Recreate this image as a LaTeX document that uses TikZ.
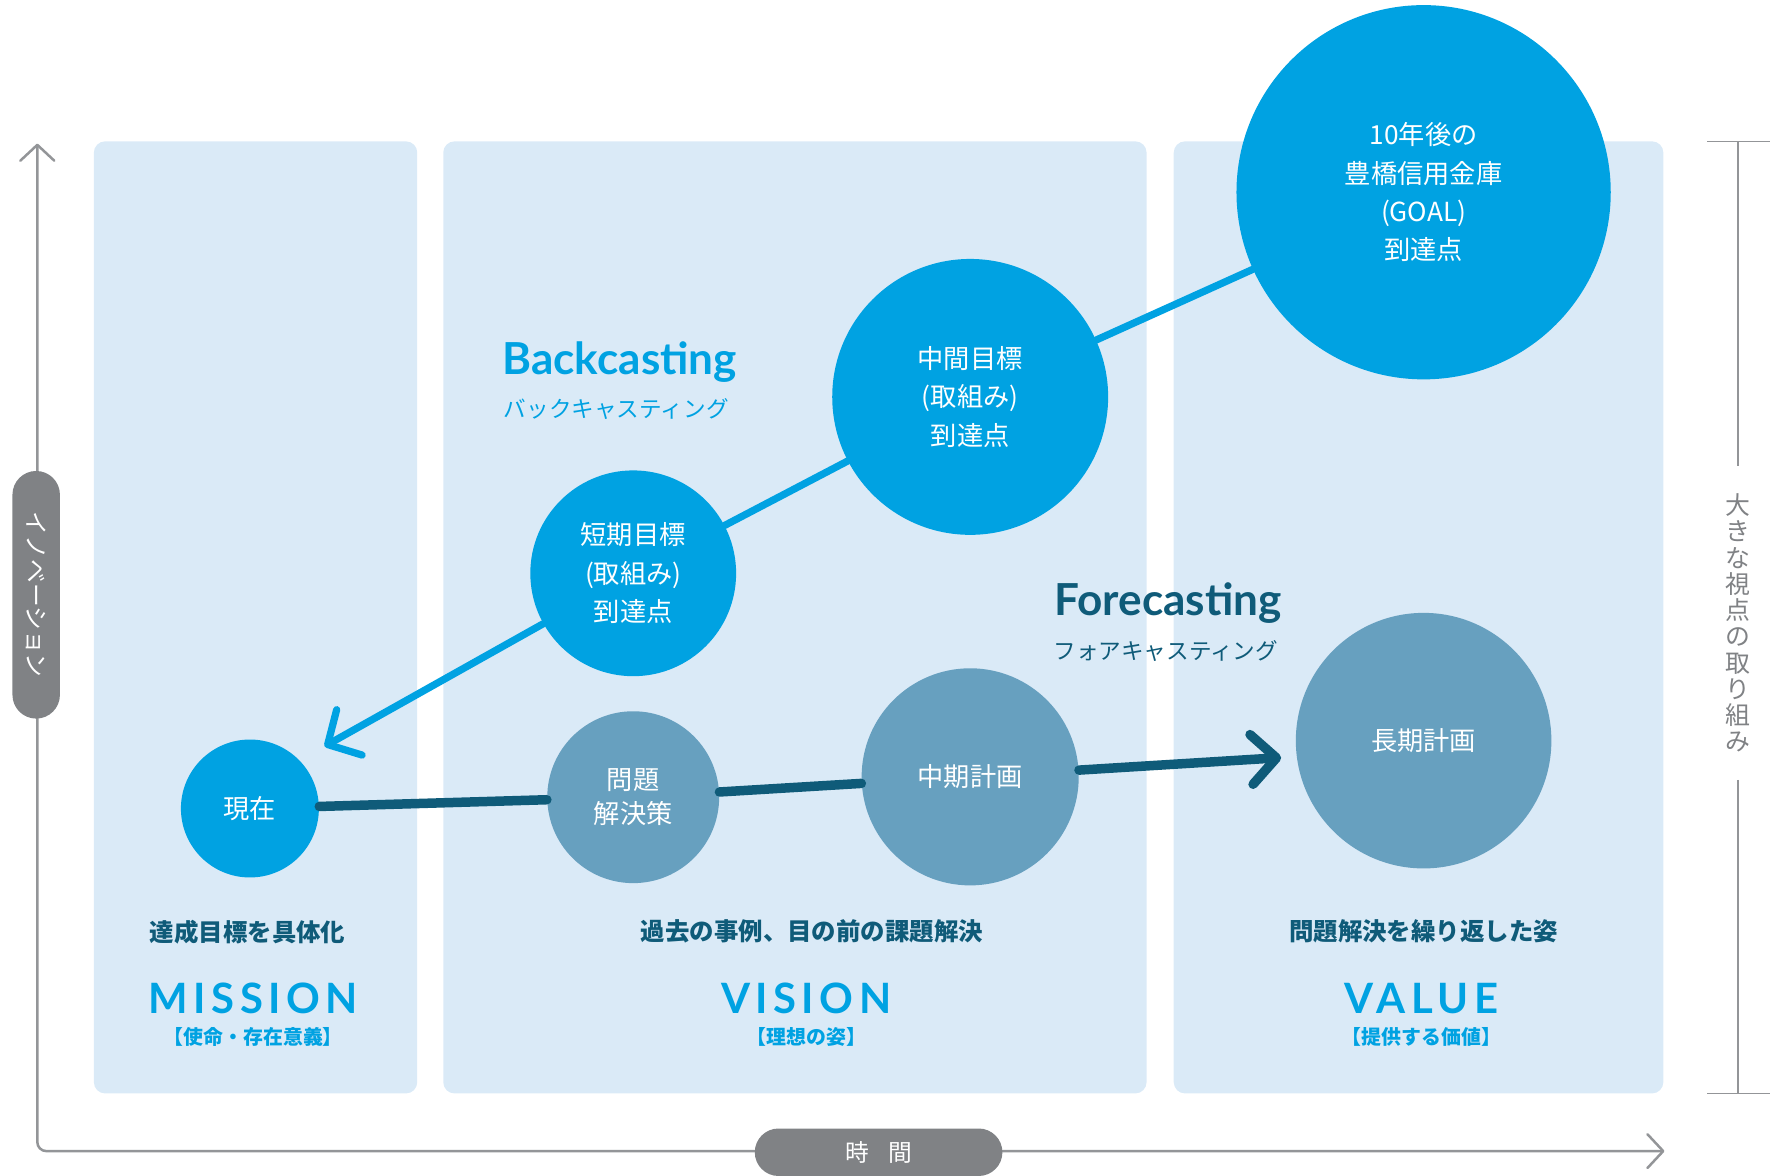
\documentclass[tikz,border=0pt]{standalone}
\usepackage{fontspec}
\setmainfont{Lato}
\newfontfamily\jp{Noto Sans CJK JP}
\usepackage{tikz}
\usetikzlibrary{arrows.meta}
\definecolor{skyblue}{HTML}{00A2E2}
\definecolor{paleblue}{HTML}{DAEAF7}
\definecolor{steelblue}{HTML}{67A0BF}
\definecolor{deepteal}{HTML}{0F5B79}
\definecolor{axisgray}{HTML}{939598}
\definecolor{pillgray}{HTML}{808285}
\tikzset{
    panel/.style={fill=paleblue, rounded corners=5pt},
    goalcirc/.style={circle, fill=skyblue, text=white, minimum size=#1pt, inner sep=0pt, align=center, font=\jp\fontsize{11.6}{17}\selectfont},
    plancirc/.style={circle, fill=steelblue, text=white, minimum size=#1pt, inner sep=0pt, align=center, font=\jp\fontsize{11.6}{15}\selectfont},
    pill/.style={fill=pillgray, text=white, rounded corners=10.5pt, inner sep=0pt, font=\jp\fontsize{10.5}{12}\selectfont},
    axisline/.style={draw=axisgray, line width=1.1pt, rounded corners=4pt},
    bracketline/.style={draw=axisgray, line width=0.7pt},
    backline/.style={draw=skyblue, line width=3.2pt, line cap=round},
    foreline/.style={draw=deepteal, line width=4.2pt, line cap=round},
    headword/.style={font=\bfseries\fontsize{19.5}{20}\selectfont},
    kanasub/.style={font=\jp\fontsize{10}{12}\selectfont},
    caption/.style={text=deepteal, font=\jp\bfseries\fontsize{10.8}{12}\selectfont},
    keyword/.style={text=skyblue, font=\bfseries\fontsize{18.5}{19}\selectfont\addfontfeature{LetterSpace=13}},
    keysub/.style={text=skyblue, font=\jp\bfseries\fontsize{8.8}{10}\selectfont}
}
\begin{document}
\begin{tikzpicture}[x=0.5pt, y=-0.5pt]
    \useasboundingbox (0,0) rectangle (1568,1040);
    \fill[panel] (83,125) rectangle (369,967);
    \fill[panel] (392,125) rectangle (1014,967);
    \fill[panel] (1038,125) rectangle (1471,967);

    \coordinate (ytop) at (33,127);
    \coordinate (origin) at (33,1018);
    \coordinate (xend) at (1472,1018);
    \draw[axisline, {Straight Barb[length=7pt,width=15pt,round]}-{Straight Barb[length=7pt,width=15pt,round]}]
        (ytop) -- (origin) -- (xend);
    \node[pill, rotate=-90, minimum width=109.5pt, minimum height=21pt] (innov) at (32,526) {イノベーション};
    \node[pill, minimum width=109.5pt, minimum height=21pt] (time) at (777,1019) {時\hspace{0.8em}間};

    \coordinate (brtop) at (1537,125);
    \coordinate (brbot) at (1537,967);
    \node[text=pillgray, align=center, inner xsep=0pt, inner ysep=12pt, font=\jp\fontsize{11}{11.6}\selectfont]
        (bigview) at (1537,551) {大\\き\\な\\視\\点\\の\\取\\り\\組\\み};
    \draw[bracketline] ([xshift=-13.5pt]brtop) -- ([xshift=14pt]brtop);
    \draw[bracketline] ([xshift=-13.5pt]brbot) -- ([xshift=14pt]brbot);
    \draw[bracketline] (brtop) -- (bigview);
    \draw[bracketline] (bigview) -- (brbot);

    \node[headword, text=skyblue] (bctitle) at (548,320) {Backcasting};
    \node[kanasub, text=skyblue] (bcsub) at (545,362) {バックキャスティング};
    \node[headword, text=deepteal] (fctitle) at (1033,533) {Forecasting};
    \node[kanasub, text=deepteal] (fcsub) at (1031,576) {フォアキャスティング};

    \node[goalcirc=165.5] (goal) at (1259,170) {10年後の\\豊橋信用金庫\\(GOAL)\\到達点};
    \node[goalcirc=122] (midgoal) at (858,351) {中間目標\\(取組み)\\到達点};
    \node[goalcirc=91] (shortgoal) at (560,507) {短期目標\\(取組み)\\到達点};
    \node[goalcirc=61] (now) at (221,715) {現在};
    \node[plancirc=76] (solution) at (560,705) {問題\\解決策};
    \node[plancirc=96] (midplan) at (858,687) {中期計画};
    \node[plancirc=113] (longplan) at (1259,655) {長期計画};
    \coordinate (bcend) at (287,660);
    \coordinate (fcend) at (1133,670);

    \draw[backline] (goal) -- (midgoal);
    \draw[backline] (midgoal) -- (shortgoal);
    \draw[backline, -{Straight Barb[length=11pt,width=23pt,round]}] (shortgoal) -- (bcend);
    \draw[foreline] (now) -- (solution);
    \draw[foreline] (solution) -- (midplan);
    \draw[foreline, -{Straight Barb[length=11pt,width=22pt,round]}] (midplan) -- (fcend);

    \node[caption] (missiontext) at (219,824) {達成目標を具体化};
    \node[caption] (visiontext) at (718,824) {過去の事例、目の前の課題解決};
    \node[caption] (valuetext) at (1259,824) {問題解決を繰り返した姿};
    \node[keyword] (mission) at (224,883) {MISSION};
    \node[keyword] (vision) at (713,883) {VISION};
    \node[keyword] (value) at (1257,883) {VALUE};
    \node[keysub] (missionsub) at (224,917) {【使命・存在意義】};
    \node[keysub] (visionsub) at (713,917) {【理想の姿】};
    \node[keysub] (valuesub) at (1257,917) {【提供する価値】};
\end{tikzpicture}
\end{document}
